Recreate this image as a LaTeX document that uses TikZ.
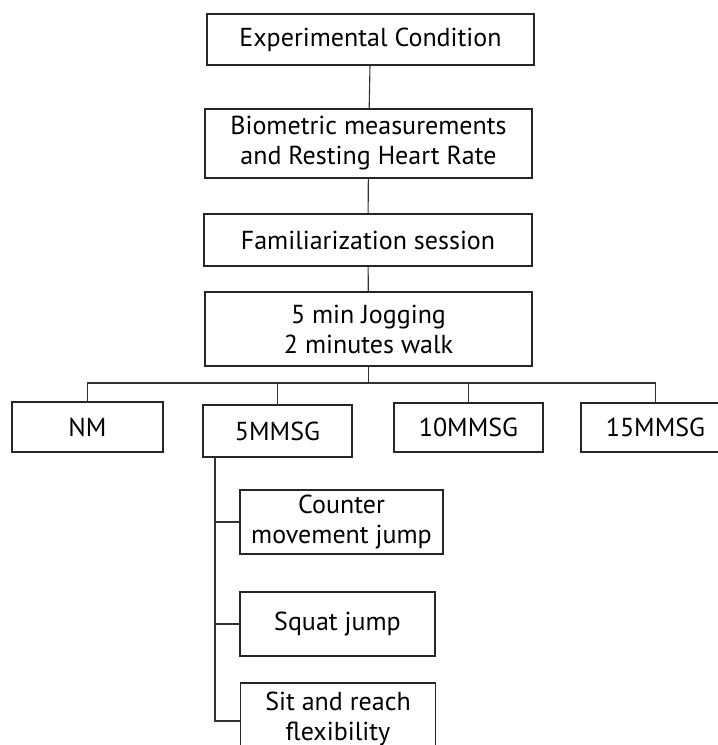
\documentclass[tikz,border=0pt]{standalone}
\usepackage{fontspec}
\setmainfont{PT Sans}
\usepackage{tikz}

\begin{document}
\begin{tikzpicture}[x=1pt,y=-1pt,
		stagebox/.style={draw=black!85, line width=1.1pt, align=center, inner sep=0pt,
			font=\fontsize{26}{30}\selectfont},
		link/.style={draw=black!80, line width=1.1pt}]
				\useasboundingbox (0,0) rectangle (718,745);
				\clip (0,0) rectangle (718,745);
				\node[stagebox, minimum width=327, minimum height=51] (exp) at (370.5,39.5) {Experimental Condition};
				\node[stagebox, minimum width=327, minimum height=69] (bio) at (368.5,143.5) {Biometric measurements\\and Resting Heart Rate};
				\node[stagebox, minimum width=328, minimum height=52] (fam) at (368,240) {Familiarization session};
				\node[stagebox, minimum width=327, minimum height=74] (jog) at (368.5,329) {5 min Jogging\\2 minutes walk};
				\node[stagebox, minimum width=151, minimum height=50] (nm) at (87.5,427) {NM};
				\node[stagebox, minimum width=149, minimum height=52] (g5) at (277.5,431) {5MMSG};
				\node[stagebox, minimum width=149, minimum height=49] (g10) at (468.5,427.5) {10MMSG};
				\node[stagebox, minimum width=149, minimum height=49] (g15) at (655.5,427.5) {15MMSG};
				\node[stagebox, minimum width=203, minimum height=64] (cmj) at (341.5,522) {Counter\\movement jump};
				\node[stagebox, minimum width=195, minimum height=64] (sq) at (337.5,624) {Squat jump};
				\node[stagebox, minimum width=195, minimum height=72] (sit) at (338,719) {Sit and reach\\flexibility};
				\draw[link] (exp) -- (bio);
				\draw[link] (bio) -- (fam);
				\draw[link] (fam) -- (jog);
				\coordinate (bus) at (368.5,383);
				\draw[link] (jog) -- (bus);
				\draw[link] (nm.north) |- (bus) -| (g15.north);
				\draw[link] (g5.north) -- (g5.north |- bus);
				\draw[link] (g10.north) -- (g10.north |- bus);
				\coordinate (trunk) at (215,457);
				\draw[link] (trunk) |- ([yshift=-2]sit.west);
				\draw[link] (cmj.west) -- (cmj.west -| trunk);
				\draw[link] (sq.west) -- (sq.west -| trunk);
			\end{tikzpicture}
\end{document}
